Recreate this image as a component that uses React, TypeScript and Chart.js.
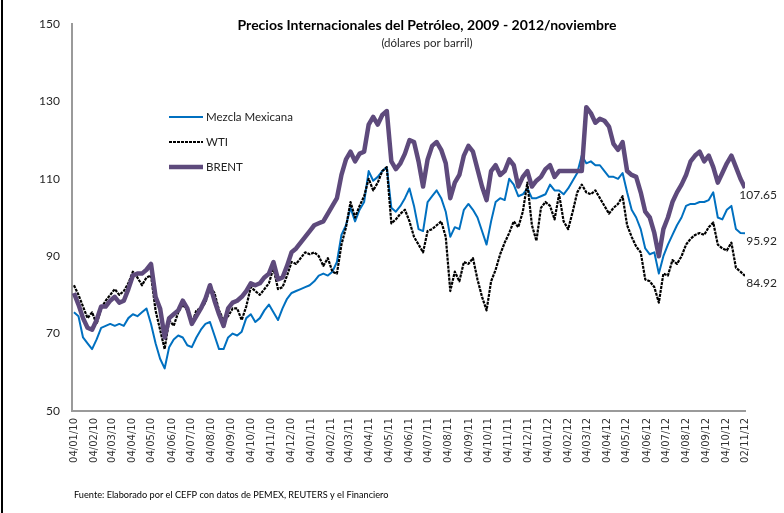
import React, { useEffect, useRef } from "react";
import { Chart, registerables } from "chart.js";

Chart.register(...registerables);

const TITLE = "Precios Internacionales del Petróleo, 2009 - 2012/noviembre";
const SUBTITLE = "(dólares por barril)";
const FOOTER = "Fuente: Elaborado por el CEFP con datos de PEMEX, REUTERS y el Financiero";

const START_LABEL = "04/01/10";
const END_LABEL = "02/11/12";

const tickLabels = [
  "04/01/10", "04/02/10", "04/03/10", "04/04/10", "04/05/10", "04/06/10",
  "04/07/10", "04/08/10", "04/09/10", "04/10/10", "04/11/10", "04/12/10",
  "04/01/11", "04/02/11", "04/03/11", "04/04/11", "04/05/11", "04/06/11",
  "04/07/11", "04/08/11", "04/09/11", "04/10/11", "04/11/11", "04/12/11",
  "04/01/12", "04/02/12", "04/03/12", "04/04/12", "04/05/12", "04/06/12",
  "04/07/12", "04/08/12", "04/09/12", "04/10/12", "02/11/12",
];

const yTicks = [50, 70, 90, 110, 130, 150];

// Weekly readings (≈7-day steps from 04/01/10 to 02/11/12)
const mezcla = [
  75.5, 74.5, 69.0, 67.5, 66.0, 68.5, 71.5, 72.0, 72.5, 72.0,
  72.5, 72.0, 74.0, 75.0, 74.5, 75.5, 76.5, 72.5, 67.5, 63.5,
  61.0, 66.5, 68.5, 69.5, 69.0, 67.0, 66.5, 69.0, 71.0, 72.5,
  73.0, 69.5, 66.0, 66.0, 69.0, 70.0, 69.5, 70.5, 74.0, 75.0,
  73.0, 74.0, 76.0, 77.5, 75.5, 73.5, 76.5, 79.0, 80.5, 81.0,
  81.5, 82.0, 82.5, 83.5, 85.0, 85.5, 85.0, 86.0, 88.5, 95.5,
  98.0, 102.5, 99.0, 102.0, 104.0, 112.0, 109.5, 110.5, 112.0, 113.0,
  102.5, 101.5, 103.0, 105.0, 107.5, 103.0, 97.0, 96.5, 104.0, 105.5,
  107.0, 105.0, 101.5, 95.0, 97.5, 97.0, 102.0, 103.5, 102.0, 100.0,
  96.5, 93.0, 99.0, 104.0, 105.0, 104.5, 110.0, 108.5, 105.5, 106.0,
  107.5, 105.0, 105.0, 105.5, 106.0, 108.5, 107.0, 107.0, 106.0, 107.5,
  109.5, 111.5, 116.0, 114.0, 114.5, 113.5, 113.5, 112.0, 110.5, 110.5,
  110.0, 111.5, 106.5, 102.0, 100.0, 97.0, 92.0, 90.5, 91.0, 85.5,
  90.0, 93.0, 95.5, 98.0, 100.0, 103.0, 103.5, 103.5, 104.0, 104.0,
  104.5, 106.5, 100.0, 99.5, 102.0, 103.0, 97.0, 96.0, 95.92,
];

const wti = [
  82.5, 80.0, 77.0, 74.0, 75.5, 72.5, 76.5, 78.5, 80.0, 81.5,
  80.0, 81.0, 83.0, 86.0, 84.5, 82.5, 84.5, 85.0, 76.0, 71.0,
  66.0, 73.5, 72.0, 75.5, 77.5, 76.0, 72.5, 76.0, 76.5, 78.0,
  82.0, 80.5, 76.0, 73.5, 74.5, 76.5, 76.5, 73.5, 77.0, 82.0,
  81.0, 80.0, 81.5, 83.0, 87.0, 81.5, 82.0, 85.0, 88.5, 88.0,
  89.5, 91.0, 90.5, 91.0, 90.0, 87.5, 89.5, 86.0, 85.5, 93.0,
  97.5, 104.0, 100.0, 103.0, 105.5, 110.0, 107.0, 109.0, 112.0, 113.0,
  98.5, 99.5, 101.0, 102.0, 99.0, 95.0, 93.0, 91.0, 96.5, 97.0,
  98.0, 99.0, 95.0, 81.0, 86.0, 83.5, 88.5, 88.0, 89.5, 84.0,
  79.5, 76.0, 83.5, 86.5, 90.5, 93.5, 96.0, 99.0, 97.5, 101.5,
  109.0, 98.0, 94.0, 102.5, 104.0, 103.0, 99.5, 106.0, 99.0, 97.0,
  101.5, 106.5, 108.5, 106.5, 106.0, 107.0, 105.0, 103.0, 101.0, 102.5,
  103.5, 105.5, 98.0, 95.0, 92.5, 91.0, 84.0, 83.5, 82.0, 78.0,
  85.5, 85.0, 89.0, 88.0, 90.0, 93.0, 94.5, 95.5, 96.0, 95.5,
  97.5, 98.7, 93.0, 92.0, 91.5, 93.5, 87.0, 86.0, 84.92,
];

const brent = [
  80.5, 77.5, 74.0, 71.5, 71.0, 73.5, 77.0, 77.0, 78.5, 79.5,
  78.0, 78.5, 81.5, 85.0, 85.5, 85.5, 86.5, 88.0, 79.5, 76.5,
  69.0, 74.0, 75.0, 76.0, 78.5, 76.5, 72.5, 74.5, 76.5, 79.0,
  82.5, 78.5, 75.0, 72.0, 76.5, 78.0, 78.5, 79.5, 81.0, 83.0,
  82.5, 83.0, 84.5, 85.5, 88.5, 84.0, 84.5, 87.5, 91.0, 92.0,
  93.5, 95.0, 96.5, 98.0, 98.5, 99.0, 101.0, 103.0, 105.0, 111.0,
  115.0, 117.0, 114.5, 116.5, 117.0, 124.0, 126.0, 124.0, 126.5, 127.5,
  114.5, 112.5, 114.0, 116.5, 120.0, 119.5, 114.5, 108.0, 115.0, 118.5,
  119.5, 117.5, 114.0, 105.0, 109.0, 111.0, 116.0, 118.5, 117.0, 112.5,
  108.0, 104.5, 112.0, 113.5, 111.0, 112.0, 115.0, 113.5, 108.0, 110.5,
  112.0, 108.0, 109.5, 110.5, 112.5, 113.5, 110.5, 112.0, 112.0, 112.0,
  112.0, 112.0, 112.0, 128.5, 127.0, 124.5, 125.5, 125.0, 123.5, 119.0,
  117.5, 119.5, 112.0, 111.0, 110.5, 106.5, 101.5, 100.0, 96.0, 90.0,
  97.0, 100.0, 104.0, 106.5, 108.5, 111.0, 114.5, 116.0, 117.0, 114.5,
  116.0, 113.0, 109.0, 111.5, 114.0, 116.0, 113.0, 110.0, 107.65,
];

function dayOf(label: string): number {
  const [d, m, y] = label.split("/").map(Number);
  const [d0, m0, y0] = START_LABEL.split("/").map(Number);
  return (Date.UTC(2000 + y, m - 1, d) - Date.UTC(2000 + y0, m0 - 1, d0)) / 86400000;
}

const totalDays = dayOf(END_LABEL);
const tickDays = tickLabels.map(dayOf);

function toPoints(values: number[]) {
  const n = values.length;
  return values.map((v, i) => ({ x: (i * totalDays) / (n - 1), y: v }));
}

const series = [
  { label: "BRENT", values: brent, color: "#5E4A7C", width: 4.5, dash: [] as number[] },
  { label: "WTI", values: wti, color: "#000000", width: 2.2, dash: [3, 1] },
  { label: "Mezcla Mexicana", values: mezcla, color: "#0070C0", width: 2, dash: [] as number[] },
];
const legendOrder = ["Mezcla Mexicana", "WTI", "BRENT"];

const textPlugin = {
  id: "textPlugin",
  afterDraw(chart: any) {
    const ctx: CanvasRenderingContext2D = chart.ctx;
    const area = chart.chartArea;
    const yScale = chart.scales.y;
    ctx.save();
    // Title
    ctx.textAlign = "center";
    ctx.textBaseline = "middle";
    ctx.fillStyle = "#000000";
    ctx.font = "bold 14px Lato";
    ctx.fillText(TITLE, 427, 25);
    ctx.font = "11.5px Lato";
    ctx.fillStyle = "#262626";
    ctx.fillText(SUBTITLE, 427, 43);

    // Legend
    legendOrder.forEach((name, k) => {
      const s = series.find((q) => q.label === name)!;
      const y = 117 + k * 25;
      ctx.save();
      ctx.strokeStyle = s.color;
      ctx.lineWidth = s.width;
      ctx.setLineDash(s.dash);
      ctx.beginPath();
      ctx.moveTo(169, y);
      ctx.lineTo(203, y);
      ctx.stroke();
      ctx.restore();
      ctx.fillStyle = "#222222";
      ctx.font = "11.5px Lato";
      ctx.textAlign = "left";
      ctx.textBaseline = "middle";
      ctx.fillText(name, 206, y);
    });

    // End value labels
    ctx.font = "12px Lato";
    ctx.fillStyle = "#262626";
    ctx.textAlign = "right";
    ctx.textBaseline = "middle";
    series.forEach((s) => {
      const last = s.values[s.values.length - 1];
      const y = yScale.getPixelForValue(last) + 7.5;
      ctx.fillText(last.toFixed(2), area.right + 32, y);
    });

    // Footer
    ctx.textAlign = "left";
    ctx.font = "9.2px Lato";
    ctx.fillStyle = "#000000";
    ctx.fillText(FOOTER, 74, 495);
    ctx.restore();
  },
};

export default function App() {
  const ref = useRef<HTMLCanvasElement>(null);

  useEffect(() => {
    document.body.style.margin = "0";
    const canvas = ref.current!;
    const chart = new Chart(canvas, {
      type: "line",
      data: {
        datasets: series.map((s) => ({
          label: s.label,
          data: toPoints(s.values),
          borderColor: s.color,
          backgroundColor: s.color,
          borderWidth: s.width,
          borderDash: s.dash,
          pointRadius: 0,
          tension: 0,
          fill: false,
          borderJoinStyle: "round" as const,
        })),
      },
      options: {
        animation: false,
        responsive: false,
        devicePixelRatio: 1,
        layout: { padding: { top: 24, right: 39, bottom: 0, left: 0 } },
        plugins: {
          legend: { display: false },
          tooltip: { enabled: false },
          title: { display: false },
        },
        scales: {
          x: {
            type: "linear",
            min: -3,
            max: totalDays,
            afterBuildTicks: (scale: any) => {
              scale.ticks = tickDays.map((v) => ({ value: v }));
            },
            afterFit: (scale: any) => {
              scale.height = 102;
            },
            ticks: {
              autoSkip: false,
              minRotation: 90,
              maxRotation: 90,
              padding: 7,
              color: "#333333",
              font: { family: "DejaVu Sans", size: 10 },
              callback: (value: any) => {
                const idx = tickDays.indexOf(Number(value));
                return idx >= 0 ? tickLabels[idx] : "";
              },
            },
            grid: { display: false, drawTicks: false },
            border: { display: true, color: "#9a9a9a", width: 2 },
          },
          y: {
            type: "linear",
            min: 50,
            max: 150,
            afterBuildTicks: (scale: any) => {
              scale.ticks = yTicks.map((v) => ({ value: v }));
            },
            afterFit: (scale: any) => {
              scale.width = 72;
            },
            ticks: {
              padding: 12,
              color: "#262626",
              font: { family: "Lato", size: 12 },
            },
            grid: { display: false, drawTicks: false },
            border: { display: true, color: "#9a9a9a", width: 2 },
          },
        },
      },
      plugins: [textPlugin],
    });
    return () => chart.destroy();
  }, []);

  return (
    <div
      style={{
        position: "fixed",
        left: 0,
        top: 0,
        width: 784,
        height: 513,
        background: "#ffffff",
        overflow: "hidden",
      }}
    >
      <canvas ref={ref} width={784} height={513} style={{ display: "block" }} />
      <div
        style={{
          position: "absolute",
          left: 1,
          top: 0,
          width: 2,
          height: 513,
          background: "#000000",
        }}
      />
    </div>
  );
}
